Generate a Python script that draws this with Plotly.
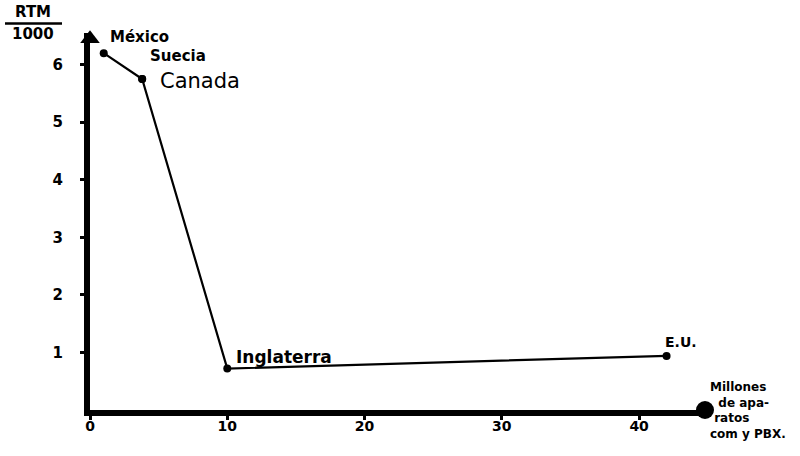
import plotly.graph_objects as go

# Telephone density (RTM per 1000) vs. millions of installed sets (com y PBX)
paises = ["México", "Suecia", "Canada", "Inglaterra", "E.U."]
aparatos_millones = [1.0, 3.8, 3.8, 10.0, 42.0]
rtm_por_mil = [6.2, 5.75, 5.75, 0.72, 0.94]

x_ticks = [0, 10, 20, 30, 40]
y_ticks = [1, 2, 3, 4, 5, 6]

# label placement (pixel offsets from each point) and font sizes
label_shift = {
    "México": (4, 16, 15, "bold"),
    "Suecia": (6, 23, 15, "bold"),
    "Canada": (16, -2, 21, "normal"),
    "Inglaterra": (7, 12, 17, "bold"),
    "E.U.": (-4, 14, 14, "bold"),
}

FONT = "DejaVu Sans"
INK = "#000000"

fig = go.Figure()

fig.add_trace(go.Scatter(
    x=aparatos_millones, y=rtm_por_mil,
    mode="lines+markers",
    line=dict(color=INK, width=2.2),
    marker=dict(color=INK, size=8),
    cliponaxis=False, showlegend=False, hoverinfo="skip",
))

# arrow tip on the vertical axis and end dot on the horizontal axis
fig.add_trace(go.Scatter(
    x=[0], y=[6.45], mode="markers",
    marker=dict(symbol="triangle-up", size=17, color=INK),
    cliponaxis=False, showlegend=False, hoverinfo="skip",
))
fig.add_trace(go.Scatter(
    x=[44.8], y=[0], mode="markers",
    marker=dict(symbol="circle", size=18, color=INK),
    cliponaxis=False, showlegend=False, hoverinfo="skip",
))

for name, xv, yv in zip(paises, aparatos_millones, rtm_por_mil):
    dx, dy, size, weight = label_shift[name]
    fig.add_annotation(
        x=xv, y=yv, text=name, showarrow=False,
        xanchor="left", yanchor="middle", xshift=dx, yshift=dy,
        font=dict(family=FONT, size=size, color=INK, weight=weight),
    )

PLOT_TOP = 410 - 6.55 * 57.5  # pixel row of the top of the y range


def py(pix):
    # pixel row -> paper y
    return (410 - pix) / (410 - PLOT_TOP)


def px(pix):
    # pixel column -> paper x
    return (pix - 90) / 615


# y-axis title as a fraction RTM / 1000
fig.add_annotation(xref="paper", yref="paper", x=px(33), y=py(12),
                   text="RTM", showarrow=False, xanchor="center", yanchor="middle",
                   font=dict(family=FONT, size=15, color=INK, weight="bold"))
fig.add_annotation(xref="paper", yref="paper", x=px(33), y=py(34),
                   text="1000", showarrow=False, xanchor="center", yanchor="middle",
                   font=dict(family=FONT, size=15, color=INK, weight="bold"))
fig.add_shape(type="line", xref="paper", yref="paper",
              x0=px(5), x1=px(62), y0=py(24), y1=py(24),
              line=dict(color=INK, width=2.5))

# x-axis title, stacked at the end of the axis
fig.add_annotation(xref="paper", yref="paper", x=px(708), y=py(378),
                   text="Millones<br>\u00a0\u00a0de apa-<br>\u00a0ratos<br>com y PBX.",
                   showarrow=False, xanchor="left", yanchor="top", align="left",
                   font=dict(family=FONT, size=12, color=INK, weight="bold"))

fig.update_layout(
    width=800, height=456,
    margin=dict(l=90, r=95, t=round(PLOT_TOP), b=46),
    paper_bgcolor="white", plot_bgcolor="white",
    font=dict(family=FONT, color=INK),
    xaxis=dict(
        range=[0, 44.8], tickvals=x_ticks, ticktext=[str(v) for v in x_ticks],
        showgrid=False, zeroline=False, showline=True, linecolor=INK, linewidth=6,
        ticks="outside", ticklen=4, tickwidth=3, tickcolor=INK,
        ticklabelstandoff=-6,
        tickfont=dict(family=FONT, size=14, color=INK, weight="bold"),
    ),
    yaxis=dict(
        range=[0, 6.55], tickvals=y_ticks, ticktext=[str(v) for v in y_ticks],
        showgrid=False, zeroline=False, showline=True, linecolor=INK, linewidth=6,
        ticks="outside", ticklen=4, tickwidth=3, tickcolor=INK,
        ticklabelstandoff=14,
        tickfont=dict(family=FONT, size=15, color=INK, weight="bold"),
    ),
)

fig.write_html("out.html")
